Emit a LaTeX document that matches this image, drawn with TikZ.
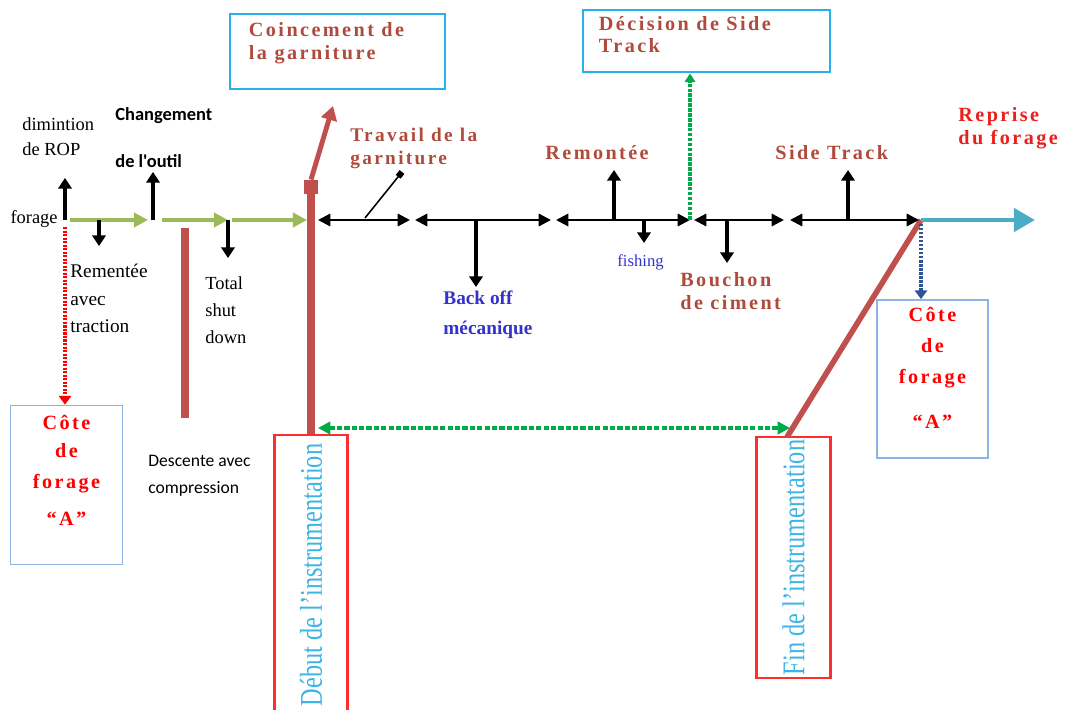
\documentclass[tikz,border=0pt]{standalone}
\usepackage{fontspec}
\setmainfont{Liberation Serif}
\newfontfamily\carlito{Carlito}
\newfontfamily\spaced[LetterSpace=12]{Liberation Serif}
\usepackage{tikz}
\usetikzlibrary{positioning,arrows.meta}
\usepackage{xcolor}
\definecolor{barred}{RGB}{192,80,77}
\definecolor{labelbrown}{RGB}{176,74,60}
\definecolor{boxblue}{RGB}{41,176,236}
\definecolor{paleblue}{RGB}{142,180,227}
\definecolor{boxred}{RGB}{255,45,45}
\definecolor{instcyan}{RGB}{60,180,230}
\definecolor{olivegreen}{RGB}{155,187,89}
\definecolor{dotgreen}{RGB}{0,170,70}
\definecolor{tealblue}{RGB}{75,172,198}
\definecolor{navyblue}{RGB}{45,85,150}
\definecolor{offblue}{RGB}{51,51,204}
\definecolor{repred}{RGB}{235,30,30}

\begin{document}
\begin{tikzpicture}[x=0.02cm, y=-0.02cm,
    sertxt/.style={anchor=north west, align=left, inner sep=0pt},
    brnlabel/.style={sertxt, text=labelbrown, font=\spaced\bfseries\fontsize{11.5}{13}\selectfont},
    tickarrow/.style={line width=2pt, -{Triangle[width=7.5pt,length=6pt]}},
    axisseg/.style={line width=1.3pt, {Triangle[width=7pt,length=7pt]}-{Triangle[width=7pt,length=7pt]}},
    greenarrow/.style={olivegreen, line width=2.2pt, -{Triangle[width=8pt,length=8pt]}},
    redbar/.style={barred, line width=4pt},
    bluebox/.style={draw=boxblue, line width=1.6pt},
    cotebox/.style={draw=paleblue, line width=1pt, minimum width=2.24cm, minimum height=3.18cm},
    cotetxt/.style={inner sep=0pt, align=center, text=red, font=\spaced\bfseries\fontsize{11.5}{16}\selectfont},
    instbox/.style={draw=boxred, line width=1.5pt, minimum width=1.47cm},
    insttxt/.style={rotate=90, inner sep=0pt, text=instcyan, font=\fontsize{18}{18}\selectfont}
  ]
  \useasboundingbox (0,0) rectangle (1070,709);

  % points on the time line
  \foreach \n/\x in {f0/65, g1a/70, g1b/148, g2a/162, g2b/228, g3a/232, g3b/307,
                     s1a/318, s1b/410, s2a/415, s2b/551, s3a/556, s3b/690, s4a/694, s4b/784,
                     s5a/790, s5b/919, fin0/921, fin1/1035}
    \coordinate (\n) at (\x,220);

  % boxes at the top
  \node[bluebox, minimum width=4.3cm, minimum height=1.5cm] (coinc) at (337.5,51.5) {};
  \node[brnlabel, below right=0.2cm and 0.4cm of coinc.north west] {Coincement de\\la garniture};
  \node[bluebox, minimum width=4.94cm, minimum height=1.24cm] (decision) at (706.5,41) {};
  \node[brnlabel, font=\spaced\bfseries\fontsize{11.5}{12}\selectfont, below right=0.16cm and 0.34cm of decision.north west] {Décision de Side\\Track};

  % Cote de forage boxes
  \node[cotebox] (cote1) at (66.5,485) {};
  \node[cotetxt, below=0.2cm of cote1.north] {Côte\\de\\[2pt]forage\\[5pt]“A”};
  \node[cotebox, minimum width=2.22cm, minimum height=3.16cm] (cote2) at (932.5,379) {};
  \node[cotetxt, font=\spaced\bfseries\fontsize{11.5}{17.5}\selectfont, below=0.16cm of cote2.north] {Côte\\de\\forage\\[8pt]“A”};

  % instrumentation boxes
  \node[instbox, minimum height=5.6cm] (debut) at (311,575) {};
  \node[insttxt] at (debut) {\scalebox{0.77}[1]{Début de l'instrumentation}};
  \node[instbox, minimum height=4.82cm] (fin) at (793.5,557.5) {};
  \node[insttxt] at (fin) {\scalebox{0.77}[1]{Fin de l'instrumentation}};

  % red bars
  \node[fill=barred, minimum size=0.28cm, inner sep=0pt] (sq) at (311,187) {};
  \coordinate (coincTip) at (333,106);
  \draw[redbar] (sq.south) -- (debut.north);
  \draw[barred, line width=2.8pt, -{Triangle[width=9pt,length=8pt]}] (sq.north) -- (coincTip);
  \coordinate (bar1a) at (185,228);
  \coordinate (bar1b) at (185,418);
  \draw[redbar] (bar1a) -- (bar1b);
  \coordinate (finTop) at (787,437);
  \draw[barred, line width=3.2pt] (fin0) -- (finTop);

  % time line
  \draw[greenarrow] (g1a) -- (g1b);
  \draw[greenarrow] (g2a) -- (g2b);
  \draw[greenarrow] (g3a) -- (g3b);
  \foreach \a/\b in {s1a/s1b, s2a/s2b, s3a/s3b, s4a/s4b, s5a/s5b}
    \draw[axisseg] (\a) -- (\b);
  \draw[tealblue, line width=2.8pt, -{Triangle[width=13pt,length=12pt]}] (fin0) -- (fin1);

  % small up and down arrows
  \foreach \x/\y [count=\i] in {65/178, 153/172, 614/170, 848/170, 99/246, 228/258, 476/287, 644/243, 727/263} {
    \coordinate (tb\i) at (\x,220);
    \coordinate (tt\i) at (\x,\y);
    \draw[tickarrow] (tb\i) -- (tt\i);
  }
  \coordinate (travA) at (365,218);
  \coordinate (travB) at (402,172);
  \draw[line width=0.9pt, -{Square[length=3.5pt,width=3.5pt]}] (travA) -- (travB);

  % dotted arrows
  \draw[red, line width=1.8pt, dash pattern=on 1.2pt off 0.8pt, shorten <=4pt, -{Triangle[width=7pt,length=5pt]}] (f0) -- (f0 |- cote1.north);
  \draw[dotgreen, line width=2pt, dash pattern=on 2pt off 0.8pt, -{Triangle[width=6pt,length=5pt]}] (s3b) -- (s3b |- decision.south);
  \draw[navyblue, line width=1.8pt, dash pattern=on 1.5pt off 0.8pt, shorten <=2pt, -{Triangle[width=7pt,length=5pt]}] (fin0) -- (fin0 |- cote2.north);
  \coordinate (instL) at (318,428);
  \coordinate (instR) at (790,428);
  \draw[dotgreen, line width=2pt, dash pattern=on 3pt off 1.2pt, {Triangle[width=7pt,length=7pt]}-{Triangle[width=7pt,length=7pt]}] (instL) -- (instR);

  % labels
  \node[sertxt, font=\fontsize{10.5}{14.2}\selectfont] (rop) at (22,117) {dimintion\\de ROP};
  \node[sertxt, font=\carlito\bfseries\fontsize{10.5}{26.6}\selectfont] (outil) at (115,107) {Changement\\de l'outil};
  \node[anchor=east, inner sep=0pt, font=\fontsize{10.5}{12}\selectfont] (foragelbl) at (58,219) {forage};
  \node[sertxt, font=\fontsize{11}{15.6}\selectfont] (traction) at (70,264) {Rementée\\avec\\traction};
  \node[sertxt, font=\fontsize{10.5}{15.6}\selectfont] (shut) at (205,276) {Total\\shut\\down};
  \node[sertxt, font=\carlito\fontsize{10}{15.3}\selectfont] (descente) at (148,455) {Descente avec\\compression};
  \node[brnlabel, font=\spaced\bfseries\fontsize{11}{13}\selectfont] (travail) at (350,128) {Travail de la\\garniture};
  \node[sertxt, text=offblue, font=\bfseries\fontsize{11}{17}\selectfont] (backoff) at (443,291) {Back off\\mécanique};
  \node[brnlabel] (remontee) at (545,145) {Remontée};
  \node[sertxt, text=offblue, font=\fontsize{9.5}{11}\selectfont] (fishing) at (617,254) {fishing};
  \node[brnlabel] (bouchon) at (680,272) {Bouchon\\de ciment};
  \node[brnlabel] (sidetrack) at (775,145) {Side Track};
  \node[brnlabel, text=repred] (reprise) at (958,107) {Reprise\\du forage};
\end{tikzpicture}
\end{document}
